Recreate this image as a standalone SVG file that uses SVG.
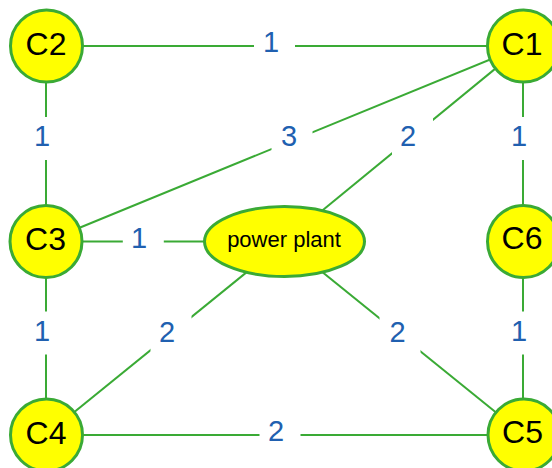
<svg xmlns="http://www.w3.org/2000/svg" width="552" height="468" viewBox="0 0 552 468">
  <style>
    .edge { stroke: #3aaa35; stroke-width: 2; fill: none; }
    .node { fill: #ffff00; stroke: #3aaa35; stroke-width: 3; }
    .ntext { font-family: "Liberation Sans", Arial, sans-serif; font-size: 32px; fill: #000; text-anchor: middle; }
    .ptext { font-family: "Liberation Sans", Arial, sans-serif; font-size: 22px; fill: #000; text-anchor: middle; }
    .lbg { fill: #ffffff; }
    .ltext { font-family: "Liberation Sans", Arial, sans-serif; font-size: 29px; fill: #2060b0; text-anchor: middle; }
  </style>
  <rect width="552" height="468" fill="#ffffff"/>

  <g id="connectors">
    <line class="edge" x1="46.5" y1="46" x2="523.5" y2="46"/>
    <line class="edge" x1="46" y1="46" x2="46" y2="241.5"/>
    <line class="edge" x1="46" y1="241.5" x2="46" y2="435"/>
    <line class="edge" x1="523" y1="46" x2="523" y2="241.5"/>
    <line class="edge" x1="523" y1="241.5" x2="523" y2="435"/>
    <line class="edge" x1="46" y1="435" x2="523" y2="435"/>
    <line class="edge" x1="46" y1="241.5" x2="523" y2="46"/>
    <line class="edge" x1="46" y1="241.5" x2="284.5" y2="241.5"/>
    <line class="edge" x1="284.5" y1="241.5" x2="523" y2="46"/>
    <line class="edge" x1="284.5" y1="241.5" x2="46" y2="435"/>
    <line class="edge" x1="284.5" y1="241.5" x2="524" y2="435"/>

    <!-- edge weights on white tabs -->
    <g id="w-c2-c1"><rect class="lbg" x="254" y="24.5" width="41" height="43"/><text class="ltext" x="271" y="52">1</text></g>
    <g id="w-c2-c3"><rect class="lbg" x="25.5" y="117" width="41" height="43"/><text class="ltext" x="42" y="146">1</text></g>
    <g id="w-c1-c6"><rect class="lbg" x="502.5" y="117" width="41" height="43"/><text class="ltext" x="519" y="146">1</text></g>
    <g id="w-c3-c4"><rect class="lbg" x="25.5" y="311.5" width="41" height="43"/><text class="ltext" x="42" y="340.5">1</text></g>
    <g id="w-c6-c5"><rect class="lbg" x="502.5" y="311.5" width="41" height="43"/><text class="ltext" x="519" y="340.5">1</text></g>
    <g id="w-c3-pp"><rect class="lbg" x="122.8" y="220" width="41" height="43"/><text class="ltext" x="139" y="248">1</text></g>
    <g id="w-c3-c1"><rect class="lbg" x="271.5" y="119.5" width="41" height="43"/><text class="ltext" x="289" y="146">3</text></g>
    <g id="w-pp-c1"><rect class="lbg" x="392" y="115.5" width="41" height="43"/><text class="ltext" x="408" y="146">2</text></g>
    <g id="w-pp-c4"><rect class="lbg" x="150.5" y="312" width="41" height="43"/><text class="ltext" x="167" y="341.5">2</text></g>
    <g id="w-pp-c5"><rect class="lbg" x="379.5" y="313" width="41" height="43"/><text class="ltext" x="397.5" y="341.5">2</text></g>
    <g id="w-c4-c5"><rect class="lbg" x="259.5" y="413.5" width="41" height="43"/><text class="ltext" x="276" y="441">2</text></g>
  </g>

  <g id="C2"><circle class="node" cx="46.5" cy="46" r="36"/><text class="ntext" x="46" y="55">C2</text></g>
  <g id="C1"><circle class="node" cx="523.5" cy="46" r="36"/><text class="ntext" x="522" y="55">C1</text></g>
  <g id="C3"><circle class="node" cx="46" cy="241.5" r="36"/><text class="ntext" x="45.5" y="249.5">C3</text></g>
  <g id="C6"><circle class="node" cx="523.5" cy="241.5" r="36"/><text class="ntext" x="522" y="249">C6</text></g>
  <g id="C4"><circle class="node" cx="46.5" cy="435" r="36"/><text class="ntext" x="46" y="443.5">C4</text></g>
  <g id="C5"><circle class="node" cx="524" cy="435" r="36"/><text class="ntext" x="522.5" y="443">C5</text></g>
  <g id="power-plant"><ellipse class="node" cx="284.5" cy="241.5" rx="80" ry="35"/><text class="ptext" x="284" y="247">power plant</text></g>
</svg>
